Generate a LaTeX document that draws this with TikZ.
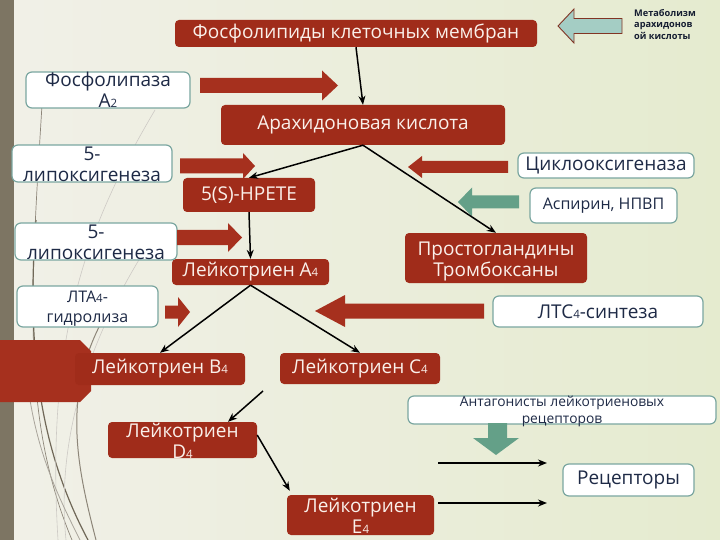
\documentclass[tikz,border=0pt]{standalone}
\usepackage{fontspec}
\setmainfont{Open Sans}
\usetikzlibrary{arrows.meta}

\definecolor{brick}{RGB}{160,44,26}
\definecolor{brickarr}{RGB}{166,48,30}
\definecolor{paper}{RGB}{250,240,234}
\definecolor{ink}{RGB}{30,42,70}
\definecolor{frame}{RGB}{122,166,160}
\definecolor{sea}{RGB}{100,160,136}
\definecolor{pale}{RGB}{164,205,196}
\definecolor{rust}{RGB}{130,52,36}
\definecolor{bar}{RGB}{125,117,99}
\definecolor{wisp}{RGB}{112,104,88}

\newcommand{\bigf}{\fontsize{19}{21}\selectfont}
\newcommand{\midf}{\fontsize{16}{20}\selectfont}
\newcommand{\sm}[1]{{\fontsize{11.5}{11.5}\selectfont #1}}
\newcommand{\tx}[2][7.5pt]{\smash{\raisebox{-#1}{\begin{tabular}[c]{@{}c@{}}#2\end{tabular}}}}
% block arrow: style, tail x, head base x, tip x, y, shaft half, head half
\newcommand{\blk}[7]{\fill[#1] (#2,#5-#6) -- (#3,#5-#6) -- (#3,#5-#7) -- (#4,#5)
  -- (#3,#5+#7) -- (#3,#5+#6) -- (#2,#5+#6) -- cycle;}

\begin{document}
\begin{tikzpicture}[x=1pt,y=-1pt,
  met/.style={rectangle, rounded corners=4pt, fill=brick, text=paper, inner sep=0pt, font=\bigf},
  enz/.style={rectangle, rounded corners=6pt, draw=frame, line width=1.2pt, fill=white,
    text=ink, inner sep=0pt, font=\bigf},
  link/.style={-{Stealth[length=9pt,width=7pt]}, line width=1.5pt}]

  \useasboundingbox (0,0) rectangle (720,540);
  \shade[left color={rgb,255:red,241;green,240;blue,232}, right color={rgb,255:red,229;green,235;blue,207}]
    (0,0) rectangle (720,540);

  % theme decoration
  \fill[bar] (0,0) rectangle (14,540);
  \draw[wisp!80, line width=0.7pt] (42,105) .. controls (30,300) and (22,420) .. (72,540);
  \draw[wisp, line width=1.2pt] (36,220) .. controls (26,350) and (40,450) .. (88,540);
  \draw[wisp!35, line width=0.6pt] (155,110) .. controls (90,220) and (45,330) .. (58,540);
  \draw[wisp!35, line width=0.6pt] (145,250) .. controls (95,330) and (55,430) .. (66,540);
  \draw[wisp!80, line width=1pt] (100,325) .. controls (62,400) and (78,470) .. (96,540);
  \draw[wisp!60, line width=0.8pt] (30,400) .. controls (40,460) and (60,500) .. (80,540);
  \fill[brickarr] (0,340) -- (80,340) -- (91,351) -- (91,391) -- (80,402) -- (0,402) -- cycle;

  % legend
  \fill[pale, draw=rust, line width=0.9pt] (622,18.5) -- (574,18.5) -- (574,9) -- (558,26)
    -- (574,43) -- (574,33.5) -- (622,33.5) -- cycle;
  \node[anchor=north west, align=left, font=\fontsize{9.2}{11.5}\selectfont\bfseries,
    text=ink!70!black, inner sep=0pt] (title) at (634,9) {Метаболизм\\арахидонов\\ой кислоты};

  % metabolites
  \node[met, minimum width=362, minimum height=27] (fosf) at (356,33.5) {Фосфолипиды клеточных мембран};
  \node[met, minimum width=284, minimum height=40] (arah) at (363,125) {Арахидоновая кислота};
  \node[met, minimum width=132, minimum height=34] (hpete) at (249,195) {5(S)-HPETE};
  \node[met, minimum width=182, minimum height=50] (prost) at (496,258) {\tx[8pt]{Простогландины\\Тромбоксаны}};
  \node[met, minimum width=157, minimum height=26] (lta) at (250.5,272) {Лейкотриен A\sm{4}};
  \node[met, minimum width=170, minimum height=32] (ltb) at (160,369) {Лейкотриен B\sm{4}};
  \node[met, minimum width=160, minimum height=31] (ltc) at (360,368.5) {Лейкотриен C\sm{4}};
  \node[met, minimum width=149, minimum height=36] (ltd) at (182.5,440) {\tx[8pt]{Лейкотриен\\D\sm{4}}};
  \node[met, minimum width=147, minimum height=40] (lte) at (360.5,515) {\tx[8pt]{Лейкотриен\\E\sm{4}}};

  % enzymes and drugs
  \node[enz, minimum width=164, minimum height=36] (pla) at (108,90) {\tx[7pt]{Фосфолипаза\\A\sm{2}}};
  \node[enz, minimum width=160, minimum height=37] (loxa) at (92,163.5) {\tx{5-\\липоксигенеза}};
  \node[enz, minimum width=162, minimum height=37] (loxb) at (96,241.5) {\tx{5-\\липоксигенеза}};
  \node[enz, minimum width=141, minimum height=41, font=\midf] (ltah) at (87.5,306.5) {\tx[6pt]{ЛТА\sm{4}-\\гидролиза}};
  \node[enz, minimum width=176, minimum height=25] (cox) at (606,165.5) {Циклооксигеназа};
  \node[enz, minimum width=147, minimum height=35, font=\midf] (asp) at (603.5,205.5) {Аспирин, НПВП};
  \node[enz, minimum width=210, minimum height=31] (ltcs) at (598,311.5) {ЛТС\sm{4}-синтеза};
  \node[enz, minimum width=308, minimum height=28, font=\fontsize{13.8}{17}\selectfont] (antag) at (562,410)
    {\tx[5.5pt]{Антагонисты лейкотриеновых\\рецепторов}};
  \node[enz, minimum width=131, minimum height=32] (rec) at (628.5,480) {Рецепторы};

  % block arrows
  \blk{brickarr}{200}{322}{338}{85.5}{7.5}{15}
  \blk{brickarr}{180}{243}{255}{166}{7.5}{13}
  \blk{brickarr}{177}{228}{242}{237.5}{7.5}{14.5}
  \blk{brickarr}{165}{178}{190}{312}{6.5}{15}
  \blk{brickarr}{484}{345}{315}{311}{7.5}{16}
  \blk{brickarr}{508}{422}{408}{167}{6}{11}
  \blk{sea}{519}{472}{458}{202}{6.5}{14.5}
  \fill[sea] (488,423) -- (507,423) -- (507,438) -- (519,438) -- (496,455) -- (473,438)
    -- (488,438) -- cycle;

  % pathway
  \coordinate (cfrom) at (263,391);
  \coordinate (ra) at (438,463);
  \coordinate (rb) at (547,463);
  \coordinate (rc) at (438,503);
  \coordinate (rd) at (547,503);

  \draw[link] (fosf.south) -- (arah.north);
  \draw[link] (arah.south) -- (hpete.north);
  \draw[link] (arah.south) -- (prost.north);
  \draw[link] (hpete.south) -- (lta.north);
  \draw[link] (lta.south) -- (ltb.north);
  \draw[link] (lta.south) -- (ltc.north);
  \draw[link] (cfrom) -- ([xshift=45.5pt]ltd.north);
  \draw[link] ([yshift=5pt]ltd.east) -- ([xshift=3pt,yshift=4pt]lte.north west);
  \draw[link] (ra) -- (rb);
  \draw[link] (rc) -- (rd);

\end{tikzpicture}
\end{document}
